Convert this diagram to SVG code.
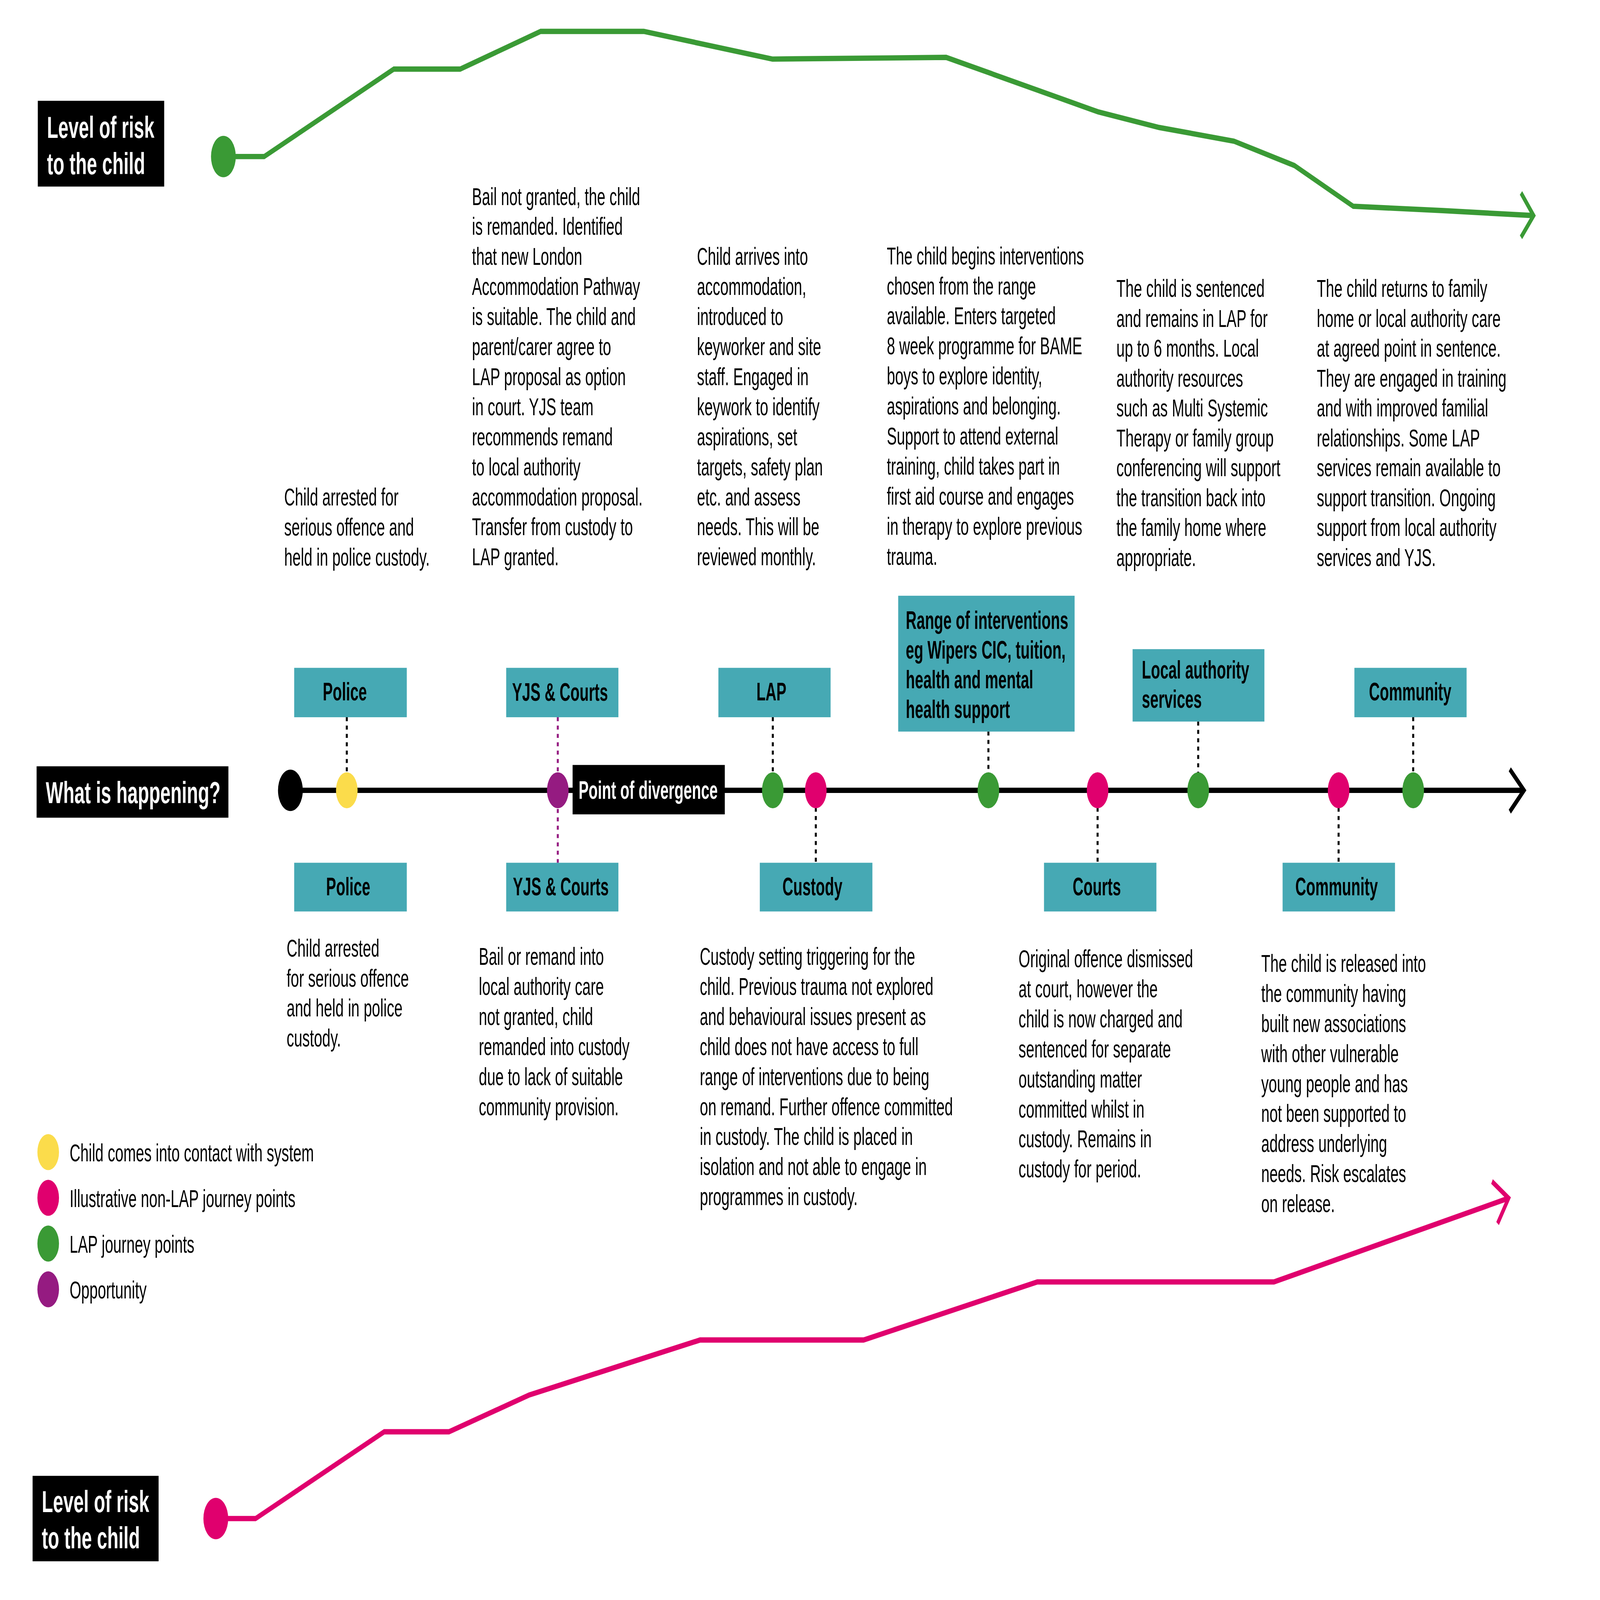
<svg xmlns="http://www.w3.org/2000/svg" width="8000" height="4794" viewBox="0 0 8000 4794" preserveAspectRatio="none">
<style>
svg:root{width:100vw;height:100vh}
.bg{fill:#ffffff}
.t{font-family:"Liberation Sans",Arial,sans-serif;font-size:74.5px;fill:#000}
.lb{font-family:"Liberation Sans",Arial,sans-serif;font-size:75px;font-weight:bold;fill:#000}
.wh{font-family:"Liberation Sans",Arial,sans-serif;font-weight:bold;fill:#fff}
.box{fill:#46a9b4}
.blk{fill:#000}
.green{fill:#3a9a35}
.pink{fill:#e0006e}
.purple{fill:#951b81}
.yellow{fill:#fbdc4b}
.riskG{fill:none;stroke:#3a9a35;stroke-width:16;stroke-linejoin:miter}
.riskP{fill:none;stroke:#e0006e;stroke-width:16;stroke-linejoin:miter}
.tl{fill:none;stroke:#000;stroke-width:16}
.dot{stroke:#000;stroke-width:10;stroke-dasharray:12 13;fill:none}
.dotp{stroke:#951b81;stroke-width:10;stroke-dasharray:12 13;fill:none}
</style>
<rect class="bg" x="0" y="0" width="8000" height="4794"/>

<g id="risk-top">
  <rect class="blk" x="189" y="302" width="632" height="257"/>
  <text class="wh" font-size="92" x="235" y="413">Level of risk</text>
  <text class="wh" font-size="92" x="235" y="522">to the child</text>
  <polyline class="riskG" points="1117,469 1321,469 1969,207 2301,207 2703,94 3219,94 3862,177 4731,172 5490,335 5796,382 6170,423 6472,496 6766,618 7214,631 7668,646"/>
  <polyline class="riskG" points="7605,578 7668,646 7605,711"/>
  <circle class="green" cx="1117" cy="469" r="62"/>
</g>

<g id="risk-bottom">
  <rect class="blk" x="163" y="4422" width="630" height="256"/>
  <text class="wh" font-size="92" x="209" y="4531">Level of risk</text>
  <text class="wh" font-size="92" x="209" y="4639">to the child</text>
  <polyline class="riskP" points="1079,4550 1278,4550 1921,4290 2245,4290 2645,4180 3500,4015 4318,4015 5186,3841 6370,3841 7543,3590"/>
  <polyline class="riskP" points="7460,3540 7543,3590 7488,3666"/>
  <circle class="pink" cx="1079" cy="4550" r="62"/>
</g>

<g id="what-is-happening">
  <rect class="blk" x="183" y="2296" width="959" height="154"/>
  <text class="wh" font-size="92" x="229" y="2406">What is happening?</text>
</g>

<g id="timeline">
  <line class="tl" x1="1452" y1="2368" x2="7618" y2="2368"/>
  <polyline class="tl" points="7549,2305 7620,2368 7549,2432"/>
  <circle class="blk" cx="1452" cy="2368" r="62"/>
</g>

<g id="connectors">
  <line class="dot" x1="1734" y1="2149" x2="1734" y2="2320"/>
  <line class="dotp" x1="2789" y1="2149" x2="2789" y2="2585"/>
  <line class="dot" x1="3864" y1="2149" x2="3864" y2="2320"/>
  <line class="dot" x1="4079" y1="2420" x2="4079" y2="2585"/>
  <line class="dot" x1="4942" y1="2192" x2="4942" y2="2320"/>
  <line class="dot" x1="5488" y1="2420" x2="5488" y2="2585"/>
  <line class="dot" x1="5991" y1="2162" x2="5991" y2="2320"/>
  <line class="dot" x1="6693" y1="2420" x2="6693" y2="2585"/>
  <line class="dot" x1="7066" y1="2149" x2="7066" y2="2320"/>
</g>

<g id="divergence">
  <rect class="blk" x="2863" y="2292" width="761" height="148"/>
  <text class="wh" font-size="75" x="2893" y="2394">Point of divergence</text>
</g>

<g id="points">
  <circle class="yellow" cx="1734" cy="2368" r="54"/>
  <circle class="purple" cx="2789" cy="2368" r="54"/>
  <circle class="green" cx="3864" cy="2368" r="54"/>
  <circle class="pink" cx="4079" cy="2368" r="54"/>
  <circle class="green" cx="4942" cy="2368" r="54"/>
  <circle class="pink" cx="5488" cy="2368" r="54"/>
  <circle class="green" cx="5991" cy="2368" r="54"/>
  <circle class="pink" cx="6693" cy="2368" r="54"/>
  <circle class="green" cx="7066" cy="2368" r="54"/>
</g>

<g id="node-police-top">
  <rect class="box" x="1471" y="2001" width="563" height="148"/>
  <text class="lb" x="1724" y="2099" text-anchor="middle">Police</text>
</g>
<g id="node-police-bottom">
  <rect class="box" x="1471" y="2585" width="563" height="146"/>
  <text class="lb" x="1741" y="2683" text-anchor="middle">Police</text>
</g>
<g id="node-yjs-top">
  <rect class="box" x="2531" y="2001" width="561" height="148"/>
  <text class="lb" x="2800" y="2100" text-anchor="middle">YJS &amp; Courts</text>
</g>
<g id="node-yjs-bottom">
  <rect class="box" x="2531" y="2585" width="561" height="146"/>
  <text class="lb" x="2804" y="2683" text-anchor="middle">YJS &amp; Courts</text>
</g>
<g id="node-lap">
  <rect class="box" x="3592" y="2001" width="561" height="148"/>
  <text class="lb" x="3857" y="2099" text-anchor="middle">LAP</text>
</g>
<g id="node-custody">
  <rect class="box" x="3799" y="2585" width="563" height="146"/>
  <text class="lb" x="4062" y="2683" text-anchor="middle">Custody</text>
</g>
<g id="node-range">
  <rect class="box" x="4491" y="1785" width="882" height="407"/>
  <text class="lb" x="4529" y="1884">Range of interventions</text>
  <text class="lb" x="4529" y="1973">eg Wipers CIC, tuition,</text>
  <text class="lb" x="4529" y="2062">health and mental</text>
  <text class="lb" x="4529" y="2151">health support</text>
</g>
<g id="node-courts">
  <rect class="box" x="5220" y="2585" width="562" height="146"/>
  <text class="lb" x="5484" y="2683" text-anchor="middle">Courts</text>
</g>
<g id="node-la-services">
  <rect class="box" x="5663" y="1945" width="659" height="217"/>
  <text class="lb" x="5709" y="2033">Local authority</text>
  <text class="lb" x="5709" y="2121">services</text>
</g>
<g id="node-community-bottom">
  <rect class="box" x="6413" y="2585" width="562" height="146"/>
  <text class="lb" x="6683" y="2683" text-anchor="middle">Community</text>
</g>
<g id="node-community-top">
  <rect class="box" x="6772" y="2001" width="561" height="148"/>
  <text class="lb" x="7051" y="2099" text-anchor="middle">Community</text>
</g>

<g id="text-top-1">
  <text class="t" x="1421" y="1515"><tspan x="1421">Child arrested for</tspan><tspan x="1421" dy="90">serious offence and</tspan><tspan x="1421" dy="90">held in police custody.</tspan></text>
</g>
<g id="text-top-2">
  <text class="t" x="2360" y="614"><tspan x="2360">Bail not granted, the child</tspan><tspan x="2360" dy="90">is remanded. Identified</tspan><tspan x="2360" dy="90">that new London</tspan><tspan x="2360" dy="90">Accommodation Pathway</tspan><tspan x="2360" dy="90">is suitable. The child and</tspan><tspan x="2360" dy="90">parent/carer agree to</tspan><tspan x="2360" dy="90">LAP proposal as option</tspan><tspan x="2360" dy="90">in court. YJS team</tspan><tspan x="2360" dy="90">recommends remand</tspan><tspan x="2360" dy="90">to local authority</tspan><tspan x="2360" dy="90">accommodation proposal.</tspan><tspan x="2360" dy="90">Transfer from custody to</tspan><tspan x="2360" dy="90">LAP granted.</tspan></text>
</g>
<g id="text-top-3">
  <text class="t" x="3485" y="794"><tspan x="3485">Child arrives into</tspan><tspan x="3485" dy="90">accommodation,</tspan><tspan x="3485" dy="90">introduced to</tspan><tspan x="3485" dy="90">keyworker and site</tspan><tspan x="3485" dy="90">staff. Engaged in</tspan><tspan x="3485" dy="90">keywork to identify</tspan><tspan x="3485" dy="90">aspirations, set</tspan><tspan x="3485" dy="90">targets, safety plan</tspan><tspan x="3485" dy="90">etc. and assess</tspan><tspan x="3485" dy="90">needs. This will be</tspan><tspan x="3485" dy="90">reviewed monthly.</tspan></text>
</g>
<g id="text-top-4">
  <text class="t" x="4434" y="792"><tspan x="4434">The child begins interventions</tspan><tspan x="4434" dy="90">chosen from the range</tspan><tspan x="4434" dy="90">available. Enters targeted</tspan><tspan x="4434" dy="90">8 week programme for BAME</tspan><tspan x="4434" dy="90">boys to explore identity,</tspan><tspan x="4434" dy="90">aspirations and belonging.</tspan><tspan x="4434" dy="90">Support to attend external</tspan><tspan x="4434" dy="90">training, child takes part in</tspan><tspan x="4434" dy="90">first aid course and engages</tspan><tspan x="4434" dy="90">in therapy to explore previous</tspan><tspan x="4434" dy="90">trauma.</tspan></text>
</g>
<g id="text-top-5">
  <text class="t" x="5582" y="890"><tspan x="5582">The child is sentenced</tspan><tspan x="5582" dy="89.5">and remains in LAP for</tspan><tspan x="5582" dy="89.5">up to 6 months. Local</tspan><tspan x="5582" dy="89.5">authority resources</tspan><tspan x="5582" dy="89.5">such as Multi Systemic</tspan><tspan x="5582" dy="89.5">Therapy or family group</tspan><tspan x="5582" dy="89.5">conferencing will support</tspan><tspan x="5582" dy="89.5">the transition back into</tspan><tspan x="5582" dy="89.5">the family home where</tspan><tspan x="5582" dy="89.5">appropriate.</tspan></text>
</g>
<g id="text-top-6">
  <text class="t" x="6584" y="890"><tspan x="6584">The child returns to family</tspan><tspan x="6584" dy="89.5">home or local authority care</tspan><tspan x="6584" dy="89.5">at agreed point in sentence.</tspan><tspan x="6584" dy="89.5">They are engaged in training</tspan><tspan x="6584" dy="89.5">and with improved familial</tspan><tspan x="6584" dy="89.5">relationships. Some LAP</tspan><tspan x="6584" dy="89.5">services remain available to</tspan><tspan x="6584" dy="89.5">support transition. Ongoing</tspan><tspan x="6584" dy="89.5">support from local authority</tspan><tspan x="6584" dy="89.5">services and YJS.</tspan></text>
</g>

<g id="text-bottom-1">
  <text class="t" x="1433" y="2866"><tspan x="1433">Child arrested</tspan><tspan x="1433" dy="90">for serious offence</tspan><tspan x="1433" dy="90">and held in police</tspan><tspan x="1433" dy="90">custody.</tspan></text>
</g>
<g id="text-bottom-2">
  <text class="t" x="2394" y="2891"><tspan x="2394">Bail or remand into</tspan><tspan x="2394" dy="90">local authority care</tspan><tspan x="2394" dy="90">not granted, child</tspan><tspan x="2394" dy="90">remanded into custody</tspan><tspan x="2394" dy="90">due to lack of suitable</tspan><tspan x="2394" dy="90">community provision.</tspan></text>
</g>
<g id="text-bottom-3">
  <text class="t" x="3499" y="2891"><tspan x="3499">Custody setting triggering for the</tspan><tspan x="3499" dy="90">child. Previous trauma not explored</tspan><tspan x="3499" dy="90">and behavioural issues present as</tspan><tspan x="3499" dy="90">child does not have access to full</tspan><tspan x="3499" dy="90">range of interventions due to being</tspan><tspan x="3499" dy="90">on remand. Further offence committed</tspan><tspan x="3499" dy="90">in custody. The child is placed in</tspan><tspan x="3499" dy="90">isolation and not able to engage in</tspan><tspan x="3499" dy="90">programmes in custody.</tspan></text>
</g>
<g id="text-bottom-4">
  <text class="t" x="5093" y="2898"><tspan x="5093">Original offence dismissed</tspan><tspan x="5093" dy="90">at court, however the</tspan><tspan x="5093" dy="90">child is now charged and</tspan><tspan x="5093" dy="90">sentenced for separate</tspan><tspan x="5093" dy="90">outstanding matter</tspan><tspan x="5093" dy="90">committed whilst in</tspan><tspan x="5093" dy="90">custody. Remains in</tspan><tspan x="5093" dy="90">custody for period.</tspan></text>
</g>
<g id="text-bottom-5">
  <text class="t" x="6306" y="2912"><tspan x="6306">The child is released into</tspan><tspan x="6306" dy="90">the community having</tspan><tspan x="6306" dy="90">built new associations</tspan><tspan x="6306" dy="90">with other vulnerable</tspan><tspan x="6306" dy="90">young people and has</tspan><tspan x="6306" dy="90">not been supported to</tspan><tspan x="6306" dy="90">address underlying</tspan><tspan x="6306" dy="90">needs. Risk escalates</tspan><tspan x="6306" dy="90">on release.</tspan></text>
</g>

<g id="legend">
  <circle class="yellow" cx="241" cy="3452" r="54"/>
  <text class="t" x="348" y="3480">Child comes into contact with system</text>
  <circle class="pink" cx="241" cy="3589" r="54"/>
  <text class="t" x="348" y="3617">Illustrative non-LAP journey points</text>
  <circle class="green" cx="241" cy="3726" r="54"/>
  <text class="t" x="348" y="3754">LAP journey points</text>
  <circle class="purple" cx="241" cy="3863" r="54"/>
  <text class="t" x="348" y="3891">Opportunity</text>
</g>
</svg>
